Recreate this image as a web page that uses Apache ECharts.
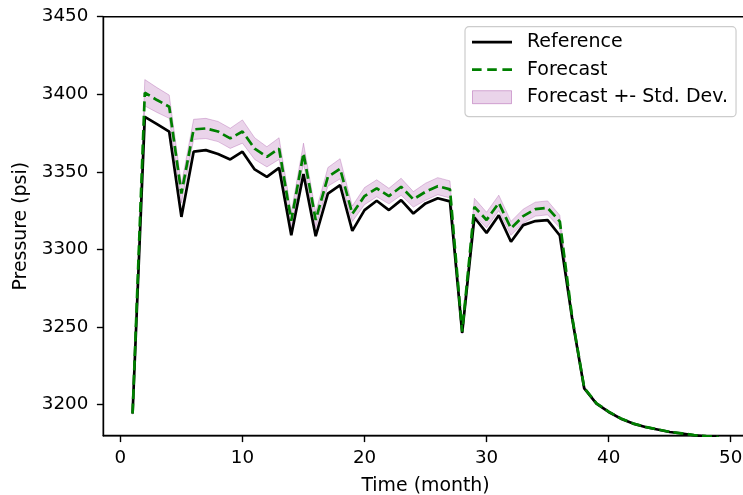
<!DOCTYPE html>
<html>
<head>
<meta charset="utf-8">
<script src="https://cdn.jsdelivr.net/npm/echarts@6/dist/echarts.min.js"></script>
<style>html,body{margin:0;padding:0;background:#fff;overflow:hidden;}#c{width:743px;height:495px;}</style>
</head>
<body>
<div id="c"></div>
<script>
const months = [1,2,3,4,5,6,7,8,9,10,11,12,13,14,15,16,17,18,19,20,21,22,23,24,25,26,27,28,29,30,31,32,33,34,35,36,37,38,39,40,41,42,43,44,45,46,47,48,49];
const reference = [3194.3,3385.5,3380.8,3375.9,3321,3363,3364,3361.5,3358,3363,3351.6,3346.8,3352.6,3309.2,3348.6,3308.6,3336,3341.5,3312,3325.4,3331.4,3325.4,3331.8,3323.2,3329.7,3333,3331,3246.3,3320.6,3310.7,3322,3305,3315.7,3318.3,3318.9,3309,3256,3210.4,3200.7,3195.3,3191,3187.8,3185.6,3184,3182.4,3181.4,3180.3,3179.6,3179.0];
const forecast = [3194.3,3401,3396.3,3392,3336,3377.4,3378,3376,3371.6,3376,3365,3359.7,3365,3318.5,3362,3319,3346.8,3352,3323,3334.4,3339.4,3334.4,3340.4,3332.3,3337.2,3340.8,3338.7,3247,3327.5,3319,3330,3313.6,3321.5,3326,3326.8,3318,3257,3210.8,3200.9,3195.5,3191.1,3187.9,3185.7,3184.1,3182.5,3181.5,3180.4,3179.7,3179.1];
const stdDev = [0.5,8.5,8,7.5,6,6.5,6.5,6.5,6.5,7.5,7,6.5,7,5.5,6.5,5,6,6.5,5,5.5,5.5,5,5.5,5,5.5,5.5,5.5,1.5,5.5,5,5,4.5,4.5,4.5,4.5,4,1.5,1,0.8,0.6,0.5,0.4,0.3,0.3,0.3,0.2,0.2,0.2,0.2];
const xTicks = [0,10,20,30,40,50];
const yTicks = [3200,3250,3300,3350,3400,3450];

const FS = 18.3;
const FS_NAME = 18.9;
const FS_LEGEND = 19;
const FONT = 'DejaVu Sans';
const chart = echarts.init(document.getElementById('c'), null, {renderer:'canvas'});

const bandData = months.map((m,i)=>[m, forecast[i]-stdDev[i], forecast[i]+stdDev[i]]);

const ICON_SOLID = 'path://M0,0M50,14M0,5.6H40V8.4H0Z';
const ICON_DASH = 'path://M0,0M50,14M0,5.6H9.6V8.4H0Z M15.2,5.6H24.8V8.4H15.2Z M30.4,5.6H40V8.4H30.4Z';
const ICON_RECT = 'path://M0,0M50,14M0.5,0.5H39.5V13.5H0.5Z';

chart.setOption({
  animation:false,
  backgroundColor:'#fff',
  textStyle:{fontFamily:FONT},
  grid:{left:103.3, top:16.7, width:644.5, height:419, outerBoundsMode:'none', show:true, borderColor:'#000', borderWidth:1.4, containLabel:false},
  legend:{
    show:true,
    orient:'vertical', left:465, top:26.7,
    backgroundColor:'rgba(255,255,255,0.8)', borderColor:'#cccccc', borderWidth:1.2, borderRadius:4,
    padding:[4.5, 8, 8.5, 6.5],
    itemWidth:50, itemHeight:14, itemGap:5.5,
    textStyle:{fontFamily:FONT, fontSize:FS_LEGEND, color:'#000', lineHeight:22},
    data:[
      {name:'Reference', icon:ICON_SOLID, itemStyle:{color:'#000', borderWidth:0}},
      {name:'Forecast', icon:ICON_DASH, itemStyle:{color:'#008000', borderWidth:0}},
      {name:'Forecast +- Std. Dev.', icon:ICON_RECT, itemStyle:{color:'rgba(128,0,128,0.17)', borderColor:'rgba(128,0,128,0.3)', borderWidth:1}}
    ]
  },
  xAxis:{
    type:'value', min:-1.4, max:51.4,
    name:'Time (month)', nameLocation:'middle', nameGap:41,
    nameTextStyle:{fontFamily:FONT, fontSize:FS_NAME, color:'#000'},
    axisLine:{show:true, onZero:false, lineStyle:{color:'#000', width:1.4}},
    axisTick:{show:true, inside:false, length:6.4, lineStyle:{color:'#000', width:1.4}, customValues:xTicks},
    axisLabel:{fontFamily:FONT, fontSize:FS, color:'#000', margin:14, customValues:xTicks, formatter:function(v){return String(v);}},
    splitLine:{show:false}
  },
  yAxis:{
    type:'value', min:3180, max:3450,
    name:'Pressure (psi)', nameLocation:'middle', nameGap:72, nameRotate:90,
    nameTextStyle:{fontFamily:FONT, fontSize:FS_NAME, color:'#000'},
    axisLine:{show:true, onZero:false, lineStyle:{color:'#000', width:1.4}},
    axisTick:{show:true, inside:false, length:6.4, lineStyle:{color:'#000', width:1.4}, customValues:yTicks},
    axisLabel:{fontFamily:FONT, fontSize:FS, color:'#000', margin:15, customValues:yTicks, formatter:function(v){return String(v);}},
    splitLine:{show:false}
  },
  series:[
    {
      name:'Forecast +- Std. Dev.', type:'custom', z:1, clip:true,
      itemStyle:{color:'rgba(128,0,128,0.17)'},
      data:bandData,
      encode:{x:0, y:[1,2]},
      renderItem:function(params, api){
        if (params.dataIndex !== 0) return;
        const upper = bandData.map(d=>api.coord([d[0], d[2]]));
        const lower = bandData.map(d=>api.coord([d[0], d[1]])).reverse();
        return {
          type:'polygon',
          shape:{points:upper.concat(lower)},
          style:{fill:'rgba(128,0,128,0.17)', stroke:'rgba(128,0,128,0.22)', lineWidth:1}
        };
      }
    },
    {
      name:'Reference', type:'line', z:2, symbol:'none', clip:true,
      data:months.map((m,i)=>[m, reference[i]]),
      lineStyle:{color:'#000', width:2.7},
      itemStyle:{color:'#000'}
    },
    {
      name:'Forecast', type:'line', z:3, symbol:'none', clip:true,
      data:months.map((m,i)=>[m, forecast[i]]),
      lineStyle:{color:'#008000', width:2.7, type:[10,4.4]},
      itemStyle:{color:'#008000'}
    }
  ]
});
</script>
</body>
</html>
